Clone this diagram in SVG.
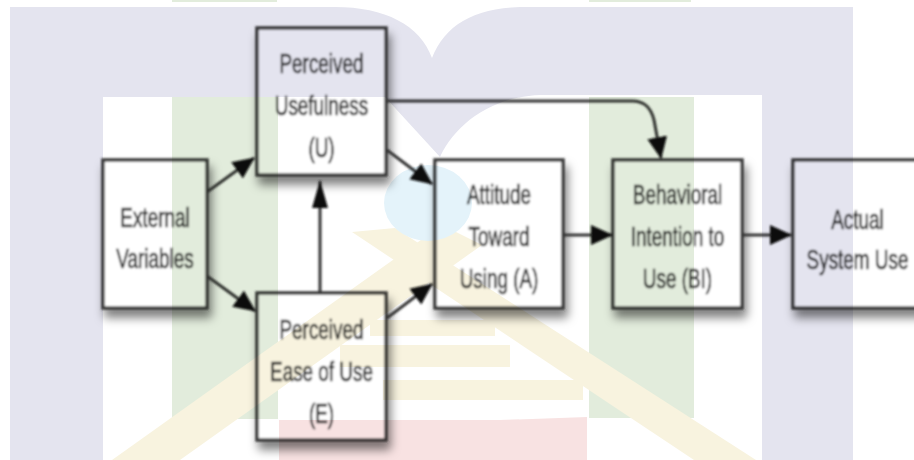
<svg xmlns="http://www.w3.org/2000/svg" width="914" height="460" viewBox="0 0 914 460">
<defs>
<style>
.box{fill:#fff;stroke:#3b3b3b;stroke-width:3.5;filter:url(#sh)}
.t{font-family:"Liberation Sans",Arial,sans-serif;font-size:27px;fill:#333;stroke:#333;stroke-width:0.7;text-anchor:middle}
.ln{fill:none;stroke:#353535;stroke-width:3}
.lav{fill:#e4e4ef}.grn{fill:#e2ecdc}.yel{fill:#f8f3df}.red{fill:#f8e2e2}.blu{fill:#e4f3fa}
</style>
<filter id="sh" x="-20%" y="-20%" width="150%" height="150%">
<feDropShadow dx="3" dy="8" stdDeviation="5" flood-color="#000" flood-opacity="0.5"/>
</filter>
<filter id="soft"><feGaussianBlur stdDeviation="0.8"/></filter>
<marker id="ah" viewBox="0 0 22 20" refX="21" refY="10" markerWidth="22" markerHeight="20" markerUnits="userSpaceOnUse" orient="auto">
<path d="M0,0 L22,10 L0,20 Z" fill="#111"/>
</marker>
<marker id="ahv" viewBox="0 0 28 16" refX="27" refY="8" markerWidth="28" markerHeight="16" markerUnits="userSpaceOnUse" orient="auto">
<path d="M0,0 L28,8 L0,16 Z" fill="#111"/>
</marker>
</defs>
<rect width="914" height="460" fill="#fff"/>
<g filter="url(#soft)">
<g id="nodes">
<g id="external">
<rect class="box" x="103" y="160" width="104" height="148"/>
<text class="t" transform="translate(155,0) scale(0.7,1)"><tspan x="0" y="227">External</tspan><tspan x="0" y="268">Variables</tspan></text>
</g>
<g id="usefulness">
<rect class="box" x="257" y="28" width="129" height="147"/>
<text class="t" transform="translate(321.5,0) scale(0.7,1)"><tspan x="0" y="73">Perceived</tspan><tspan x="0" y="115">Usefulness</tspan><tspan x="0" y="157">(U)</tspan></text>
</g>
<g id="ease">
<rect class="box" x="257" y="293" width="129" height="147"/>
<text class="t" transform="translate(321.5,0) scale(0.7,1)"><tspan x="0" y="339">Perceived</tspan><tspan x="0" y="381">Ease of Use</tspan><tspan x="0" y="423">(E)</tspan></text>
</g>
<g id="attitude">
<rect class="box" x="435" y="160" width="128" height="148"/>
<text class="t" transform="translate(499,0) scale(0.7,1)"><tspan x="0" y="204">Attitude</tspan><tspan x="0" y="246">Toward</tspan><tspan x="0" y="288">Using (A)</tspan></text>
</g>
<g id="intention">
<rect class="box" x="613" y="160" width="129" height="148"/>
<text class="t" transform="translate(677.5,0) scale(0.7,1)"><tspan x="0" y="204">Behavioral</tspan><tspan x="0" y="246">Intention to</tspan><tspan x="0" y="288">Use (BI)</tspan></text>
</g>
<g id="actual">
<rect class="box" x="793" y="160" width="130" height="148"/>
<text class="t" transform="translate(857.5,0) scale(0.7,1)"><tspan x="0" y="229">Actual</tspan><tspan x="0" y="269">System Use</tspan></text>
</g>
</g>
<g id="connectors">
<path class="ln" d="M207,192 L254,158" marker-end="url(#ah)"/>
<path class="ln" d="M207,276 L255,311" marker-end="url(#ah)"/>
<path class="ln" d="M320,293 L320,181" marker-end="url(#ahv)"/>
<path class="ln" d="M387,150 L432,184" marker-end="url(#ah)"/>
<path class="ln" d="M387,318 L432,284" marker-end="url(#ah)"/>
<path class="ln" d="M386,101 L632,101 C645,101 651,108 654,120 L661,158" marker-end="url(#ah)"/>
<path class="ln" d="M563,235 L612,235" marker-end="url(#ah)"/>
<path class="ln" d="M742,235 L791,235" marker-end="url(#ah)"/>
</g>
</g>
<g id="watermark" style="mix-blend-mode:multiply">
<path class="lav" d="M10,7 L335,7 C385,7 420,25 432,58 C445,25 475,7 525,7 L853,7 L853,460 L762,460 L762,95 L540,95 C490,97 455,125 440,157 L385,97 L103,97 L103,460 L10,460 Z"/>
<rect class="grn" x="172" y="97" width="106" height="322"/>
<rect class="grn" x="589" y="97" width="105" height="321"/>
<rect class="grn" x="172" y="0" width="105" height="2"/>
<rect class="grn" x="589" y="0" width="102" height="2"/>
<polygon class="yel" points="112,460 180,460 482,245 442,225"/>
<polygon class="yel" points="352,232 395,228 756,460 694,460"/>
<rect class="yel" x="370" y="320" width="125" height="16"/>
<rect class="yel" x="340" y="345" width="170" height="22"/>
<rect class="yel" x="383" y="380" width="200" height="20"/>
<polygon class="red" points="279,420 500,420 587,417 587,460 279,460"/>
<ellipse class="blu" cx="428" cy="203" rx="44" ry="38"/>
</g>
</svg>
